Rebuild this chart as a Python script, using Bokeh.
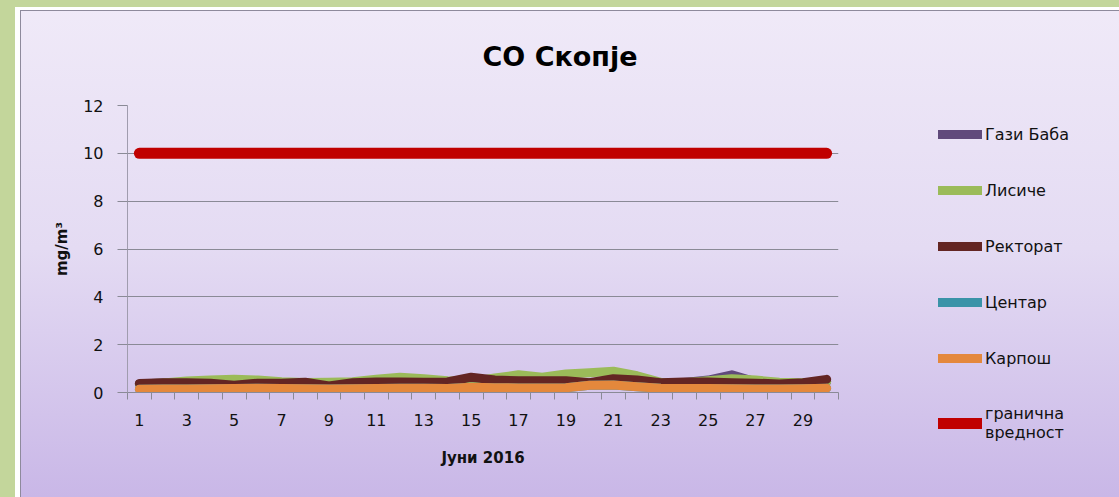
from bokeh.plotting import figure
from bokeh.models import FixedTicker, Legend, LegendItem
from bokeh.embed import file_html
from bokeh.resources import INLINE

days = list(range(1, 31))
tick_days = list(range(1, 30, 2))

gazi_baba = [0.36, 0.40, 0.40, 0.38, 0.30, 0.38, 0.38, 0.40, 0.27, 0.40,
             0.42, 0.42, 0.42, 0.42, 0.55, 0.48, 0.46, 0.46, 0.45, 0.40,
             0.50, 0.48, 0.40, 0.42, 0.52, 0.74, 0.45, 0.36, 0.38, 0.45]
lisice = [0.35, 0.40, 0.48, 0.52, 0.55, 0.52, 0.45, 0.42, 0.43, 0.45,
          0.55, 0.64, 0.58, 0.49, 0.45, 0.61, 0.74, 0.64, 0.77, 0.83,
          0.89, 0.70, 0.42, 0.41, 0.49, 0.58, 0.52, 0.43, 0.41, 0.45]
rektorat = [0.38, 0.41, 0.41, 0.39, 0.30, 0.39, 0.39, 0.43, 0.27, 0.41,
            0.44, 0.44, 0.43, 0.44, 0.64, 0.52, 0.49, 0.49, 0.49, 0.41,
            0.58, 0.52, 0.41, 0.44, 0.44, 0.41, 0.39, 0.36, 0.41, 0.55]
centar = [0.14, 0.15, 0.15, 0.16, 0.17, 0.18, 0.17, 0.16, 0.15, 0.16,
          0.17, 0.18, 0.18, 0.17, 0.22, 0.20, 0.19, 0.19, 0.20, 0.30,
          0.31, 0.24, 0.18, 0.17, 0.17, 0.16, 0.15, 0.15, 0.16, 0.18]
karpos = [0.14, 0.15, 0.15, 0.16, 0.17, 0.18, 0.17, 0.16, 0.15, 0.16,
          0.17, 0.18, 0.18, 0.17, 0.22, 0.20, 0.19, 0.19, 0.20, 0.30,
          0.31, 0.24, 0.18, 0.17, 0.17, 0.16, 0.15, 0.15, 0.16, 0.18]
limit = [10] * 30

series_names = ["Гази Баба", "Лисиче", "Ректорат", "Центар", "Карпош", "гранична\nвредност"]
series_colors = ["#604a7b", "#9bbb59", "#632523", "#3a93a8", "#e4883c", "#c00000"]
series_values = [gazi_baba, lisice, rektorat, centar, karpos, limit]

FONT = "DejaVu Sans"

p = figure(frame_width=711, frame_height=287, x_range=(0.5, 30.5), y_range=(0, 12),
           output_backend="svg", toolbar_location=None,
           min_border_left=127, min_border_right=281,
           min_border_top=105, min_border_bottom=105)

p.background_fill_alpha = 0
p.border_fill_alpha = 0
p.outline_line_color = None
p.styles = {
    "background": "linear-gradient(180deg, #f0eaf8 0%, #e4dbf3 50%, #c9b7e7 100%)",
    "box-shadow": ("inset 15px 7px 0 0 #c3d69b, inset 20px 10px 0 0 #ffffff, "
                   "inset 21px 11px 0 0 #8e8a9c"),
}

renderers = []
for name, col, vals in zip(series_names, series_colors, series_values):
    w = 11 if vals is limit else 9
    r = p.line(days, vals, line_color=col, line_width=w,
               line_cap="round", line_join="round")
    renderers.append(r)

# title
p.title.text = "СО Скопје"
p.title.align = "left"
p.title.offset = 355
p.title.standoff = 68
p.title.text_font = FONT
p.title.text_font_style = "bold"
p.title.text_font_size = "27px"
p.title.text_color = "#000000"

# axes
p.xaxis.ticker = FixedTicker(ticks=tick_days, minor_ticks=[d + 0.5 for d in range(0, 31)])
p.xaxis.major_tick_out = 0
p.xaxis.major_tick_in = 0
p.xaxis.minor_tick_out = 7
p.xaxis.minor_tick_in = 0
p.xaxis.minor_tick_line_color = "#8a8a96"
p.xaxis.axis_line_color = "#8a8a96"
p.xaxis.major_label_standoff = 14
p.xaxis.major_label_text_font = FONT
p.xaxis.major_label_text_font_size = "16px"
p.xaxis.major_label_text_color = "#111111"
p.xaxis.axis_label = "Јуни 2016"
p.xaxis.axis_label_text_font = FONT
p.xaxis.axis_label_text_font_style = "bold"
p.xaxis.axis_label_text_font_size = "15px"
p.xaxis.axis_label_standoff = 20
p.xaxis.axis_label_text_color = "#111111"

p.yaxis.ticker = FixedTicker(ticks=[0, 2, 4, 6, 8, 10, 12])
p.yaxis.major_tick_out = 10
p.yaxis.major_tick_in = 0
p.yaxis.minor_tick_out = 0
p.yaxis.minor_tick_in = 0
p.yaxis.major_tick_line_color = "#8a8a96"
p.yaxis.axis_line_color = "#a09cae"
p.yaxis.major_label_standoff = 14
p.yaxis.major_label_text_font = FONT
p.yaxis.major_label_text_font_size = "16px"
p.yaxis.major_label_text_color = "#111111"
p.yaxis.axis_label = "mg/m³"
p.yaxis.axis_label_text_font = FONT
p.yaxis.axis_label_text_font_style = "bold"
p.yaxis.axis_label_text_font_size = "15px"
p.yaxis.axis_label_standoff = 9
p.yaxis.axis_label_text_color = "#111111"

p.xgrid.visible = False
p.ygrid.grid_line_color = "#8a8a96"
p.ygrid.grid_line_width = 1

legend = Legend(items=[LegendItem(label=n, renderers=[r]) for n, r in zip(series_names, renderers)],
                location=(100, -50))
legend.label_text_font = FONT
legend.label_text_font_size = "16px"
legend.label_text_color = "#111111"
legend.label_text_line_height = 1.6
legend.glyph_width = 44
legend.glyph_height = 20
legend.label_height = 20
legend.label_standoff = 3
legend.spacing = 36
legend.padding = 0
legend.margin = 0
legend.border_line_color = None
legend.background_fill_alpha = 0
p.add_layout(legend, "right")

open("out.html", "w").write(file_html(p, INLINE))
